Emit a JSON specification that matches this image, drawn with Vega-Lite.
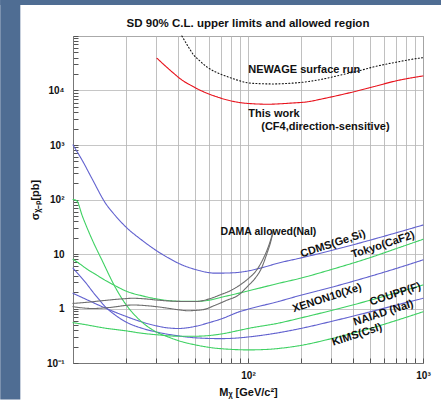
{
  "$schema": "https://vega.github.io/schema/vega-lite/v6.json",
  "usermeta": {"embedOptions": {"actions": false}},
  "width": 350,
  "height": 327,
  "autosize": {"type": "none"},
  "padding": {"left": 73, "top": 36, "right": 18, "bottom": 37},
  "background": "#ffffff",
  "config": {
    "font": "Liberation Sans",
    "view": {"stroke": "#777777", "strokeWidth": 1},
    "axis": {"labelFont": "Liberation Sans", "labelFontWeight": "bold", "labelFontSize": 10, "labelColor": "#111111", "titleFont": "Liberation Sans", "titleColor": "#111111", "domainColor": "#777777", "tickColor": "#555555"}
  },
  "title": {"text": "SD 90% C.L. upper limits and allowed region", "fontSize": 11.5, "fontWeight": "bold", "font": "Liberation Sans", "color": "#111111", "offset": -29, "anchor": "middle"},
  "datasets": {
    "curves": [
      {"series": "CDMS", "m": 10, "s": 1000}, {"series": "CDMS", "m": 11.3, "s": 520}, {"series": "CDMS", "m": 12.9, "s": 235}, {"series": "CDMS", "m": 15.35, "s": 85}, {"series": "CDMS", "m": 17.5, "s": 50}, {"series": "CDMS", "m": 20, "s": 31.6}, {"series": "CDMS", "m": 25, "s": 17.5}, {"series": "CDMS", "m": 30, "s": 11.5}, {"series": "CDMS", "m": 35, "s": 8.5}, {"series": "CDMS", "m": 42, "s": 6.3}, {"series": "CDMS", "m": 50, "s": 5.2}, {"series": "CDMS", "m": 65, "s": 4.45}, {"series": "CDMS", "m": 80, "s": 4.5}, {"series": "CDMS", "m": 97, "s": 4.8}, {"series": "CDMS", "m": 120, "s": 5.6}, {"series": "CDMS", "m": 150, "s": 6.85}, {"series": "CDMS", "m": 200, "s": 8.45}, {"series": "CDMS", "m": 300, "s": 11.6}, {"series": "CDMS", "m": 500, "s": 18}, {"series": "CDMS", "m": 700, "s": 24.4}, {"series": "CDMS", "m": 1000, "s": 34},
      {"series": "Tokyo", "m": 10, "s": 8}, {"series": "Tokyo", "m": 11, "s": 6.5}, {"series": "Tokyo", "m": 12, "s": 5.3}, {"series": "Tokyo", "m": 13.5, "s": 4.2}, {"series": "Tokyo", "m": 15, "s": 3.4}, {"series": "Tokyo", "m": 17.5, "s": 2.6}, {"series": "Tokyo", "m": 20, "s": 2.1}, {"series": "Tokyo", "m": 25, "s": 1.7}, {"series": "Tokyo", "m": 30, "s": 1.5}, {"series": "Tokyo", "m": 40, "s": 1.36}, {"series": "Tokyo", "m": 50, "s": 1.35}, {"series": "Tokyo", "m": 60, "s": 1.42}, {"series": "Tokyo", "m": 70, "s": 1.6}, {"series": "Tokyo", "m": 85, "s": 1.85}, {"series": "Tokyo", "m": 100, "s": 2.1}, {"series": "Tokyo", "m": 150, "s": 2.9}, {"series": "Tokyo", "m": 200, "s": 3.6}, {"series": "Tokyo", "m": 300, "s": 5.2}, {"series": "Tokyo", "m": 500, "s": 8.6}, {"series": "Tokyo", "m": 700, "s": 12.5}, {"series": "Tokyo", "m": 1000, "s": 18.6},
      {"series": "XENON10", "m": 10, "s": 1.9}, {"series": "XENON10", "m": 12, "s": 1.45}, {"series": "XENON10", "m": 14.3, "s": 1.12}, {"series": "XENON10", "m": 17.5, "s": 0.85}, {"series": "XENON10", "m": 20, "s": 0.72}, {"series": "XENON10", "m": 25, "s": 0.56}, {"series": "XENON10", "m": 30, "s": 0.48}, {"series": "XENON10", "m": 35, "s": 0.44}, {"series": "XENON10", "m": 40, "s": 0.43}, {"series": "XENON10", "m": 50, "s": 0.47}, {"series": "XENON10", "m": 60, "s": 0.55}, {"series": "XENON10", "m": 70, "s": 0.64}, {"series": "XENON10", "m": 90, "s": 0.88}, {"series": "XENON10", "m": 100, "s": 0.97}, {"series": "XENON10", "m": 150, "s": 1.35}, {"series": "XENON10", "m": 200, "s": 1.75}, {"series": "XENON10", "m": 300, "s": 2.45}, {"series": "XENON10", "m": 500, "s": 3.9}, {"series": "XENON10", "m": 700, "s": 5.4}, {"series": "XENON10", "m": 1000, "s": 7.8},
      {"series": "NAIAD", "m": 10, "s": 5.5}, {"series": "NAIAD", "m": 11, "s": 3.9}, {"series": "NAIAD", "m": 12, "s": 2.8}, {"series": "NAIAD", "m": 13, "s": 2.0}, {"series": "NAIAD", "m": 14, "s": 1.5}, {"series": "NAIAD", "m": 15, "s": 1.15}, {"series": "NAIAD", "m": 17.5, "s": 0.75}, {"series": "NAIAD", "m": 20, "s": 0.57}, {"series": "NAIAD", "m": 25, "s": 0.43}, {"series": "NAIAD", "m": 30, "s": 0.37}, {"series": "NAIAD", "m": 40, "s": 0.315}, {"series": "NAIAD", "m": 50, "s": 0.29}, {"series": "NAIAD", "m": 70, "s": 0.28}, {"series": "NAIAD", "m": 90, "s": 0.29}, {"series": "NAIAD", "m": 100, "s": 0.3}, {"series": "NAIAD", "m": 150, "s": 0.36}, {"series": "NAIAD", "m": 200, "s": 0.43}, {"series": "NAIAD", "m": 300, "s": 0.58}, {"series": "NAIAD", "m": 500, "s": 0.87}, {"series": "NAIAD", "m": 700, "s": 1.15}, {"series": "NAIAD", "m": 1000, "s": 1.54},
      {"series": "COUPP", "m": 10, "s": 0.55}, {"series": "COUPP", "m": 12, "s": 0.5}, {"series": "COUPP", "m": 15, "s": 0.44}, {"series": "COUPP", "m": 20, "s": 0.39}, {"series": "COUPP", "m": 25, "s": 0.35}, {"series": "COUPP", "m": 30, "s": 0.33}, {"series": "COUPP", "m": 40, "s": 0.31}, {"series": "COUPP", "m": 50, "s": 0.31}, {"series": "COUPP", "m": 70, "s": 0.34}, {"series": "COUPP", "m": 90, "s": 0.4}, {"series": "COUPP", "m": 100, "s": 0.43}, {"series": "COUPP", "m": 150, "s": 0.54}, {"series": "COUPP", "m": 200, "s": 0.67}, {"series": "COUPP", "m": 300, "s": 0.92}, {"series": "COUPP", "m": 500, "s": 1.42}, {"series": "COUPP", "m": 700, "s": 1.93}, {"series": "COUPP", "m": 1000, "s": 2.7},
      {"series": "KIMS", "m": 10, "s": 100}, {"series": "KIMS", "m": 10.5, "s": 95}, {"series": "KIMS", "m": 11.3, "s": 50}, {"series": "KIMS", "m": 12.9, "s": 18}, {"series": "KIMS", "m": 14.7, "s": 7.5}, {"series": "KIMS", "m": 17.5, "s": 2.4}, {"series": "KIMS", "m": 20, "s": 1.2}, {"series": "KIMS", "m": 21.8, "s": 0.85}, {"series": "KIMS", "m": 25, "s": 0.55}, {"series": "KIMS", "m": 29.7, "s": 0.375}, {"series": "KIMS", "m": 35, "s": 0.3}, {"series": "KIMS", "m": 42, "s": 0.245}, {"series": "KIMS", "m": 50, "s": 0.215}, {"series": "KIMS", "m": 62.5, "s": 0.19}, {"series": "KIMS", "m": 80, "s": 0.178}, {"series": "KIMS", "m": 100, "s": 0.174}, {"series": "KIMS", "m": 130, "s": 0.178}, {"series": "KIMS", "m": 150, "s": 0.185}, {"series": "KIMS", "m": 200, "s": 0.21}, {"series": "KIMS", "m": 300, "s": 0.28}, {"series": "KIMS", "m": 500, "s": 0.43}, {"series": "KIMS", "m": 700, "s": 0.6}, {"series": "KIMS", "m": 1000, "s": 0.87},
      {"series": "DAMA upper", "m": 10, "s": 1.24}, {"series": "DAMA upper", "m": 12, "s": 1.3}, {"series": "DAMA upper", "m": 15, "s": 1.4}, {"series": "DAMA upper", "m": 19, "s": 1.5}, {"series": "DAMA upper", "m": 22, "s": 1.54}, {"series": "DAMA upper", "m": 26, "s": 1.5}, {"series": "DAMA upper", "m": 30, "s": 1.43}, {"series": "DAMA upper", "m": 40, "s": 1.35}, {"series": "DAMA upper", "m": 50, "s": 1.34}, {"series": "DAMA upper", "m": 60, "s": 1.5}, {"series": "DAMA upper", "m": 70, "s": 1.8}, {"series": "DAMA upper", "m": 80, "s": 2.15}, {"series": "DAMA upper", "m": 90, "s": 2.7}, {"series": "DAMA upper", "m": 100, "s": 3.5}, {"series": "DAMA upper", "m": 110, "s": 4.7}, {"series": "DAMA upper", "m": 120, "s": 7.3}, {"series": "DAMA upper", "m": 130, "s": 13}, {"series": "DAMA upper", "m": 135, "s": 18.5}, {"series": "DAMA upper", "m": 140, "s": 28},
      {"series": "DAMA lower", "m": 10, "s": 1.08}, {"series": "DAMA lower", "m": 13, "s": 1.0}, {"series": "DAMA lower", "m": 16, "s": 1.04}, {"series": "DAMA lower", "m": 22, "s": 1.16}, {"series": "DAMA lower", "m": 30, "s": 1.08}, {"series": "DAMA lower", "m": 40, "s": 0.95}, {"series": "DAMA lower", "m": 45, "s": 0.91}, {"series": "DAMA lower", "m": 55, "s": 0.95}, {"series": "DAMA lower", "m": 65, "s": 1.15}, {"series": "DAMA lower", "m": 75, "s": 1.4}, {"series": "DAMA lower", "m": 89, "s": 1.8}, {"series": "DAMA lower", "m": 100, "s": 2.6}, {"series": "DAMA lower", "m": 110, "s": 3.6}, {"series": "DAMA lower", "m": 120, "s": 5.7}, {"series": "DAMA lower", "m": 128, "s": 10}, {"series": "DAMA lower", "m": 135, "s": 17}, {"series": "DAMA lower", "m": 140, "s": 28},
      {"series": "This work", "m": 30.2, "s": 39000}, {"series": "This work", "m": 33, "s": 30000}, {"series": "This work", "m": 37.6, "s": 20700}, {"series": "This work", "m": 42, "s": 15500}, {"series": "This work", "m": 46.8, "s": 12600}, {"series": "This work", "m": 52, "s": 10500}, {"series": "This work", "m": 58.3, "s": 8900}, {"series": "This work", "m": 66, "s": 7700}, {"series": "This work", "m": 76, "s": 6700}, {"series": "This work", "m": 90, "s": 6000}, {"series": "This work", "m": 107.6, "s": 5700}, {"series": "This work", "m": 130, "s": 5600}, {"series": "This work", "m": 152, "s": 5700}, {"series": "This work", "m": 180, "s": 5900}, {"series": "This work", "m": 218, "s": 6200}, {"series": "This work", "m": 270, "s": 7100}, {"series": "This work", "m": 337, "s": 8300}, {"series": "This work", "m": 420, "s": 9800}, {"series": "This work", "m": 520, "s": 11700}, {"series": "This work", "m": 700, "s": 15000}, {"series": "This work", "m": 1000, "s": 18500},
      {"series": "NEWAGE", "m": 41.9, "s": 100000}, {"series": "NEWAGE", "m": 45, "s": 68000}, {"series": "NEWAGE", "m": 48.9, "s": 45000}, {"series": "NEWAGE", "m": 53, "s": 35000}, {"series": "NEWAGE", "m": 58.3, "s": 27000}, {"series": "NEWAGE", "m": 66, "s": 21500}, {"series": "NEWAGE", "m": 76, "s": 18000}, {"series": "NEWAGE", "m": 87, "s": 15500}, {"series": "NEWAGE", "m": 98.8, "s": 13900}, {"series": "NEWAGE", "m": 120, "s": 13300}, {"series": "NEWAGE", "m": 140, "s": 13200}, {"series": "NEWAGE", "m": 170, "s": 13500}, {"series": "NEWAGE", "m": 218, "s": 14500}, {"series": "NEWAGE", "m": 270, "s": 16300}, {"series": "NEWAGE", "m": 337, "s": 19200}, {"series": "NEWAGE", "m": 420, "s": 22500}, {"series": "NEWAGE", "m": 520, "s": 27000}, {"series": "NEWAGE", "m": 700, "s": 33000}, {"series": "NEWAGE", "m": 943, "s": 39000}, {"series": "NEWAGE", "m": 1000, "s": 40000}
    ],
    "annot": [
      {"text": "NEWAGE surface run", "m": 100.4, "s": 23800},
      {"text": "This work", "m": 100.4, "s": 3700},
      {"text": "(CF4,direction-sensitive)", "m": 119, "s": 2140}
    ],
    "dama": [
      {"text": "DAMA allowed(NaI)", "m": 69.6, "s": 25.4}
    ],
    "rotlabels": [
      {"text": "CDMS(Ge,Si)", "m": 306, "s": 15.2},
      {"text": "Tokyo(CaF2)", "m": 591, "s": 14.6},
      {"text": "XENON10(Xe)", "m": 283, "s": 1.54},
      {"text": "COUPP(F)", "m": 695, "s": 1.82},
      {"text": "NAIAD (NaI)", "m": 595, "s": 0.82},
      {"text": "KIMS(CsI)", "m": 420, "s": 0.327}
    ]
  },
  "layer": [
    {
      "data": {"name": "curves"},
      "mark": {"type": "line", "interpolate": "monotone", "strokeCap": "round"},
      "encoding": {
        "x": {"field": "m", "type": "quantitative", "scale": {"type": "log", "domain": [10, 1000]},
          "axis": {"title": "Mᵪ [GeV/c²]", "titleFontSize": 11, "titleFontWeight": "bold", "titlePadding": 6,
            "values": [10, 20, 30, 40, 50, 60, 70, 80, 90, 100, 200, 300, 400, 500, 600, 700, 800, 900, 1000],
            "labelExpr": "datum.value == 100 ? '10²' : datum.value == 1000 ? '10³' : ''",
            "grid": true, "gridColor": "#b0b0b0", "gridWidth": 0.8,
            "tickSize": -5, "labelPadding": 12, "labelFlush": false, "labelOverlap": false}},
        "y": {"field": "s", "type": "quantitative", "scale": {"type": "log", "domain": [0.1, 100000]},
          "axis": {"title": "σᵪ₋ₚ[pb]", "titleFontSize": 11, "titleFontWeight": "bold", "titlePadding": 6,
            "values": [0.1, 0.2, 0.3, 0.4, 0.5, 0.6, 0.7, 0.8, 0.9, 1, 2, 3, 4, 5, 6, 7, 8, 9, 10, 20, 30, 40, 50, 60, 70, 80, 90, 100, 200, 300, 400, 500, 600, 700, 800, 900, 1000, 2000, 3000, 4000, 5000, 6000, 7000, 8000, 9000, 10000, 20000, 30000, 40000, 50000, 60000, 70000, 80000, 90000, 100000],
            "labelExpr": "datum.value == 0.1 ? '10⁻¹' : datum.value == 1 ? '1' : datum.value == 10 ? '10' : datum.value == 100 ? '10²' : datum.value == 1000 ? '10³' : datum.value == 10000 ? '10⁴' : ''",
            "grid": true, "gridColor": "#b8b8b8", "gridWidth": 0.8,
            "gridOpacity": {"condition": {"test": "abs(log(datum.value)/LN10 - round(log(datum.value)/LN10)) < 0.001", "value": 1}, "value": 0},
            "tickSize": -5, "labelPadding": 14, "labelFlush": false, "labelOverlap": false}},
        "color": {"field": "series", "type": "nominal", "legend": null,
          "scale": {"domain": ["CDMS", "XENON10", "NAIAD", "Tokyo", "COUPP", "KIMS", "DAMA upper", "DAMA lower", "This work", "NEWAGE"],
            "range": ["#6262cf", "#6262cf", "#6262cf", "#3fd163", "#3fd163", "#3fd163", "#6e6e6e", "#6e6e6e", "#e8121c", "#151515"]}},
        "strokeWidth": {"field": "series", "type": "nominal", "legend": null,
          "scale": {"domain": ["CDMS", "XENON10", "NAIAD", "Tokyo", "COUPP", "KIMS", "DAMA upper", "DAMA lower", "This work", "NEWAGE"],
            "range": [1.1, 1.1, 1.1, 1.1, 1.1, 1.1, 1.1, 1.1, 2.8, 2.8]}},
        "strokeDash": {"field": "series", "type": "nominal", "legend": null,
          "scale": {"domain": ["CDMS", "XENON10", "NAIAD", "Tokyo", "COUPP", "KIMS", "DAMA upper", "DAMA lower", "This work", "NEWAGE"],
            "range": [[1, 0], [1, 0], [1, 0], [1, 0], [1, 0], [1, 0], [1, 0], [1, 0], [1, 0], [1, 2.3]]}}
      }
    },
    {
      "data": {"name": "annot"},
      "mark": {"type": "text", "align": "left", "baseline": "middle", "fontSize": 11, "fontWeight": "bold", "font": "Liberation Sans", "color": "#111111"},
      "encoding": {
        "x": {"field": "m", "type": "quantitative"},
        "y": {"field": "s", "type": "quantitative"},
        "text": {"field": "text"}
      }
    },
    {
      "data": {"name": "dama"},
      "mark": {"type": "text", "align": "left", "baseline": "middle", "fontSize": 10.5, "fontWeight": "bold", "font": "Liberation Sans", "color": "#111111"},
      "encoding": {
        "x": {"field": "m", "type": "quantitative"},
        "y": {"field": "s", "type": "quantitative"},
        "text": {"field": "text"}
      }
    },
    {
      "data": {"name": "rotlabels"},
      "mark": {"type": "text", "align": "center", "baseline": "middle", "fontSize": 11, "fontWeight": "bold", "font": "Liberation Sans", "color": "#111111", "angle": 342},
      "encoding": {
        "x": {"field": "m", "type": "quantitative"},
        "y": {"field": "s", "type": "quantitative"},
        "text": {"field": "text"}
      }
    },
    {
      "data": {"values": [{}]},
      "mark": {"type": "rect", "color": "#4f6d93"},
      "encoding": {
        "x": {"datum": 3.84, "type": "quantitative"},
        "x2": {"datum": 5.0},
        "y": {"datum": 0.0215, "type": "quantitative"},
        "y2": {"datum": 457000}
      }
    },
    {
      "data": {"values": [{}]},
      "mark": {"type": "rect", "color": "#4f6d93"},
      "encoding": {
        "x": {"datum": 3.84, "type": "quantitative"},
        "x2": {"datum": 1270},
        "y": {"datum": 370000, "type": "quantitative"},
        "y2": {"datum": 457000}
      }
    }
  ]
}
